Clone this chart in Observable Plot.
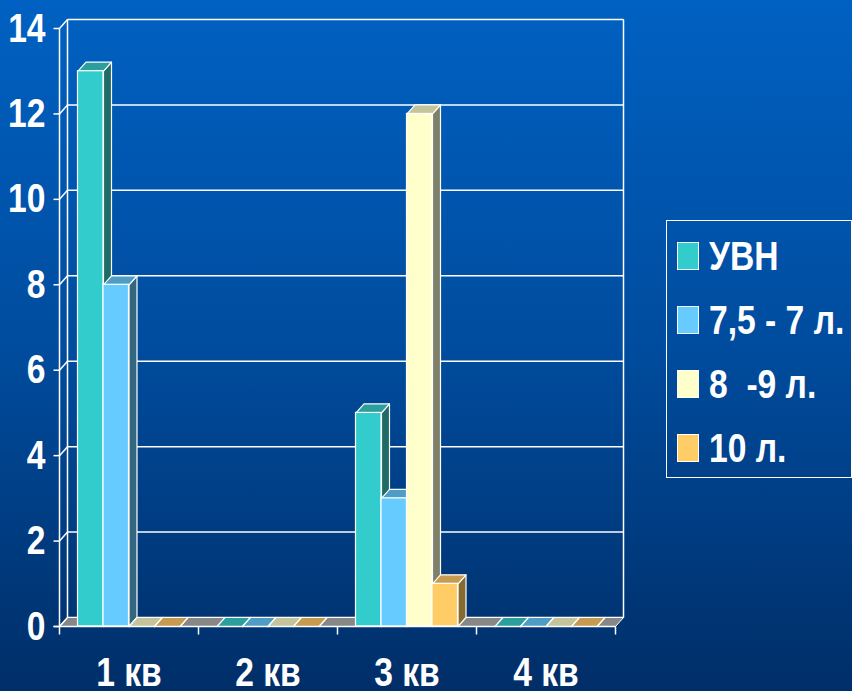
<!DOCTYPE html>
<html><head><meta charset="utf-8">
<script src="https://cdn.jsdelivr.net/npm/d3@7"></script>
<script src="https://cdn.jsdelivr.net/npm/@observablehq/plot@0.6"></script>
<style>
html,body{margin:0;padding:0;}
body{width:852px;height:691px;overflow:hidden;position:relative;
  background:linear-gradient(to bottom,#0061c2 0%,#004c9e 50%,#002e68 100%);
  font-family:"Liberation Sans",Arial,sans-serif;}
#chart{position:absolute;left:0;top:0;}
#chart svg{display:block;}
#legend{position:absolute;left:666px;top:220px;width:186px;height:258px;border:1.5px solid #fff;box-sizing:border-box;}
.item{position:absolute;left:10px;height:28px;display:flex;align-items:center;white-space:pre;}
.sw{width:22px;height:28px;box-sizing:border-box;border:1px solid #fff;margin-right:10px;flex:none;}
.lab{display:inline-block;color:#fff;font-weight:bold;font-size:41px;line-height:28px;transform:scaleX(0.82);transform-origin:left center;white-space:pre;}
</style></head>
<body>
<div id="chart"></div>
<div id="legend"></div>
<script>
// ---- data ----
const categories = ["1 кв", "2 кв", "3 кв", "4 кв"];
const seriesNames = ["УВН", "7,5 - 7 л.", "8  -9 л.", "10 л."];
const uvn = [13, 0, 5, 0];
const s75 = [8, 0, 3, 0];
const s89 = [0, 0, 12, 0];
const s10 = [0, 0, 1, 0];
const yTicks = [0, 2, 4, 6, 8, 10, 12, 14];
const frontColors = ["#33cccc", "#66ccff", "#ffffcc", "#ffcc66"];
const topColors = ["#2c9e9b", "#4f9dc4", "#c4c49c", "#c69b50"];
const sideColors = ["#1f6b68", "#33677f", "#7f8068", "#866a30"];

// ---- layout ----
const W = 852, H = 691;
const mL = 59, mR = W - 615, mT = 28, mB = H - 626;
const yMax = 14;
const xUnit = categories.length / (W - mL - mR);  // data units per px
const yUnit = yMax / (H - mT - mB);
const DX = 8 * xUnit, DY = 9 * yUnit;              // 3D depth
const inner = d3.scaleBand().domain(seriesNames).range([0, 1]).paddingInner(0).paddingOuter(0.725);
const series = [uvn, s75, s89, s10];
const nCat = categories.length;

const bars = [];
categories.forEach((c, i) => seriesNames.forEach((s, j) => {
  const xL = i + inner(s), xR = xL + inner.bandwidth();
  bars.push({cat: c, ser: s, j, xL, xR, v: series[j][i], id: c + "|" + s});
}));

function sidePoly(b) {
  return [[b.xR, 0], [b.xR, b.v], [b.xR + DX, b.v + DY], [b.xR + DX, DY], [b.xR, 0]]
    .map(([x, y]) => ({x, y, id: b.id}));
}
function topPoly(b) {
  return [[b.xL, b.v], [b.xL + DX, b.v + DY], [b.xR + DX, b.v + DY], [b.xR, b.v], [b.xL, b.v]]
    .map(([x, y]) => ({x, y, id: b.id}));
}

const white = "#ffffff";
const marks = [];
// back wall gridlines and edges
marks.push(Plot.link(yTicks, {x1: DX, x2: nCat + DX, y1: t => t + DY, y2: t => t + DY, stroke: white, strokeWidth: 1.5}));
marks.push(Plot.link([DX, nCat + DX], {x1: d => d, x2: d => d, y1: DY, y2: yMax + DY, stroke: white, strokeWidth: 1.5}));
// floor
marks.push(Plot.line([[0, 0], [DX, DY], [nCat + DX, DY], [nCat, 0], [0, 0]].map(([x, y]) => ({x, y})),
  {x: "x", y: "y", fill: "#878787", stroke: white, strokeWidth: 1}));
// connectors from front axis to back wall
marks.push(Plot.link(yTicks, {x1: 0, y1: t => t, x2: DX, y2: t => t + DY, stroke: white, strokeWidth: 1.5}));
// bars
seriesNames.forEach((s, j) => {
  const bs = bars.filter(b => b.j === j);
  marks.push(Plot.line(bs.flatMap(sidePoly), {x: "x", y: "y", z: "id", fill: sideColors[j], stroke: white, strokeWidth: 1.2}));
  marks.push(Plot.line(bs.flatMap(topPoly), {x: "x", y: "y", z: "id", fill: topColors[j], stroke: white, strokeWidth: 1.2}));
  marks.push(Plot.rect(bs, {x1: "xL", x2: "xR", y1: 0, y2: "v", fill: frontColors[j], stroke: white, strokeWidth: 1.2}));
});
// front axes
marks.push(Plot.link([0], {x1: 0, x2: 0, y1: 0, y2: yMax, stroke: white, strokeWidth: 1.5}));
marks.push(Plot.link(yTicks, {x1: -6 * xUnit, x2: 0, y1: t => t, y2: t => t, stroke: white, strokeWidth: 1.5}));
marks.push(Plot.link([0], {x1: -6 * xUnit, x2: nCat, y1: 0, y2: 0, stroke: white, strokeWidth: 1.5}));
marks.push(Plot.link(d3.range(nCat + 1), {x1: d => d, x2: d => d, y1: 0, y2: -8 * yUnit, stroke: white, strokeWidth: 1.5}));
// labels
const font = "'Liberation Sans',Arial,sans-serif";
marks.push(Plot.text(yTicks, {x: () => 0, y: t => t, text: t => String(t), dx: -14, textAnchor: "end",
  fill: white, fontSize: 41, fontWeight: "bold", fontFamily: font}));
marks.push(Plot.text(categories, {x: (d, i) => i + 0.5, y: () => 0, text: d => d, dy: 59, lineAnchor: "bottom",
  fill: white, fontSize: 41, fontWeight: "bold", fontFamily: font}));

const chart = Plot.plot({
  width: W, height: H,
  marginLeft: mL, marginRight: mR, marginTop: mT, marginBottom: mB,
  x: {domain: [0, nCat], axis: null},
  y: {domain: [0, yMax], axis: null},
  style: {background: "transparent", color: white, overflow: "visible"},
  marks
});
document.getElementById("chart").appendChild(chart);

// condense the bold labels horizontally (narrow bold face look), keeping each anchor fixed
const NS = "http://www.w3.org/2000/svg";
Array.from(chart.querySelectorAll("text")).forEach(el => {
  const anchor = getComputedStyle(el).textAnchor || "start";
  const g = document.createElementNS(NS, "g");
  el.parentNode.insertBefore(g, el);
  g.appendChild(el);
  const bb = g.getBBox();
  const ax = anchor === "end" ? bb.x + bb.width : anchor === "middle" ? bb.x + bb.width / 2 : bb.x;
  g.setAttribute("transform", `translate(${ax},0) scale(0.82,1) translate(${-ax},0)`);
});

// legend
const lg = document.getElementById("legend");
seriesNames.forEach((s, j) => {
  const it = document.createElement("div");
  it.className = "item";
  it.style.top = (21 + j * 64) + "px";
  it.innerHTML = `<div class="sw" style="background:${frontColors[j]}"></div><span class="lab"></span>`;
  it.querySelector(".lab").textContent = s;
  lg.appendChild(it);
});
</script>
</body></html>
